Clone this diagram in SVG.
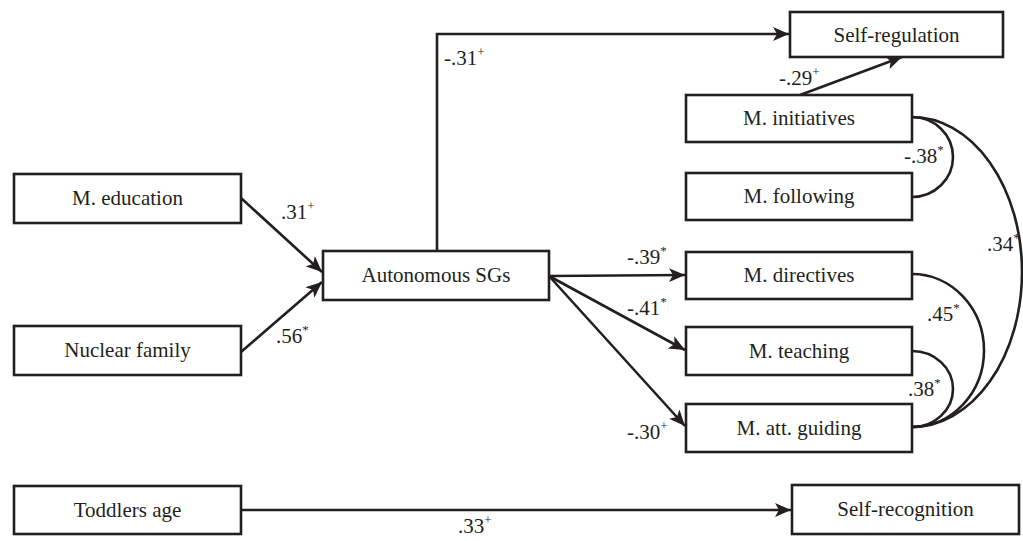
<svg xmlns="http://www.w3.org/2000/svg" width="1023" height="541" viewBox="0 0 1023 541">
<style>
.box{fill:#fff;stroke:#231f20;stroke-width:2.6}
text{font-family:'Liberation Serif','Times New Roman','DejaVu Serif',serif;font-size:21px;fill:#231f20}
.t{text-anchor:middle}
.s{font-size:13px}
.c{fill:none;stroke:#231f20;stroke-width:2.6}
.a{fill:none;stroke:#231f20;stroke-width:2.6;marker-end:url(#ah)}
</style>
<defs>
<marker id="ah" markerUnits="userSpaceOnUse" markerWidth="18" markerHeight="14" refX="16" refY="7" orient="auto">
<path d="M0,0 L16,7 L0,14 L4,7 z" fill="#231f20"/>
</marker>
</defs>
<g id="connectors">
<path class="a" d="M437,251 V34 H789"/>
<path class="a" d="M800,95 L902,57"/>
<path class="a" d="M241,198 L322,272"/>
<path class="a" d="M241,352 L322,282"/>
<path class="a" d="M549,276 L685,275"/>
<path class="a" d="M549,276 L685,350"/>
<path class="a" d="M549,276 L685,426"/>
<path class="a" d="M241,510 L791,510"/>
<path class="c" d="M912,117 A41,40 0 0 1 912,197"/>
<path class="c" d="M912,117 A110,155 0 0 1 912,427"/>
<path class="c" d="M912,274 A72,76.5 0 0 1 912,427"/>
<path class="c" d="M912,351 A41,38 0 0 1 912,427"/>
</g>
<g id="labels" font-family="'Liberation Serif', serif">
<text x="444" y="65">-.31<tspan class="s" dy="-9">+</tspan></text>
<text x="779" y="85">-.29<tspan class="s" dy="-9">+</tspan></text>
<text x="904" y="163">-.38<tspan class="s" dy="-9">*</tspan></text>
<text x="987" y="251">.34<tspan class="s" dy="-9">*</tspan></text>
<text x="927" y="321">.45<tspan class="s" dy="-9">*</tspan></text>
<text x="908" y="396">.38<tspan class="s" dy="-9">*</tspan></text>
<text x="627" y="264">-.39<tspan class="s" dy="-9">*</tspan></text>
<text x="627" y="315">-.41<tspan class="s" dy="-9">*</tspan></text>
<text x="627" y="439">-.30<tspan class="s" dy="-9">+</tspan></text>
<text x="281" y="219">.31<tspan class="s" dy="-9">+</tspan></text>
<text x="276" y="343">.56<tspan class="s" dy="-9">*</tspan></text>
<text x="458" y="533">.33<tspan class="s" dy="-9">+</tspan></text>
</g>
<g id="self-regulation"><rect class="box" x="790" y="12" width="213" height="45"/><text class="t" x="896.5" y="42">Self-regulation</text></g>
<g id="m-initiatives"><rect class="box" x="686" y="95" width="226" height="47"/><text class="t" x="799" y="125">M. initiatives</text></g>
<g id="m-following"><rect class="box" x="686" y="173" width="226" height="47"/><text class="t" x="799" y="203">M. following</text></g>
<g id="m-education"><rect class="box" x="14" y="174" width="227" height="49"/><text class="t" x="127.5" y="205">M. education</text></g>
<g id="autonomous-sgs"><rect class="box" x="323" y="251" width="226" height="49"/><text class="t" x="436" y="282">Autonomous SGs</text></g>
<g id="m-directives"><rect class="box" x="686" y="252" width="226" height="47"/><text class="t" x="799" y="282">M. directives</text></g>
<g id="nuclear-family"><rect class="box" x="14" y="326" width="227" height="49"/><text class="t" x="127.5" y="357">Nuclear family</text></g>
<g id="m-teaching"><rect class="box" x="686" y="327" width="226" height="48"/><text class="t" x="799" y="358">M. teaching</text></g>
<g id="m-att-guiding"><rect class="box" x="686" y="404" width="226" height="48"/><text class="t" x="799" y="435">M. att. guiding</text></g>
<g id="toddlers-age"><rect class="box" x="14" y="486" width="227" height="48"/><text class="t" x="127.5" y="517">Toddlers age</text></g>
<g id="self-recognition"><rect class="box" x="792" y="485" width="227" height="49"/><text class="t" x="905.5" y="516">Self-recognition</text></g>
</svg>
